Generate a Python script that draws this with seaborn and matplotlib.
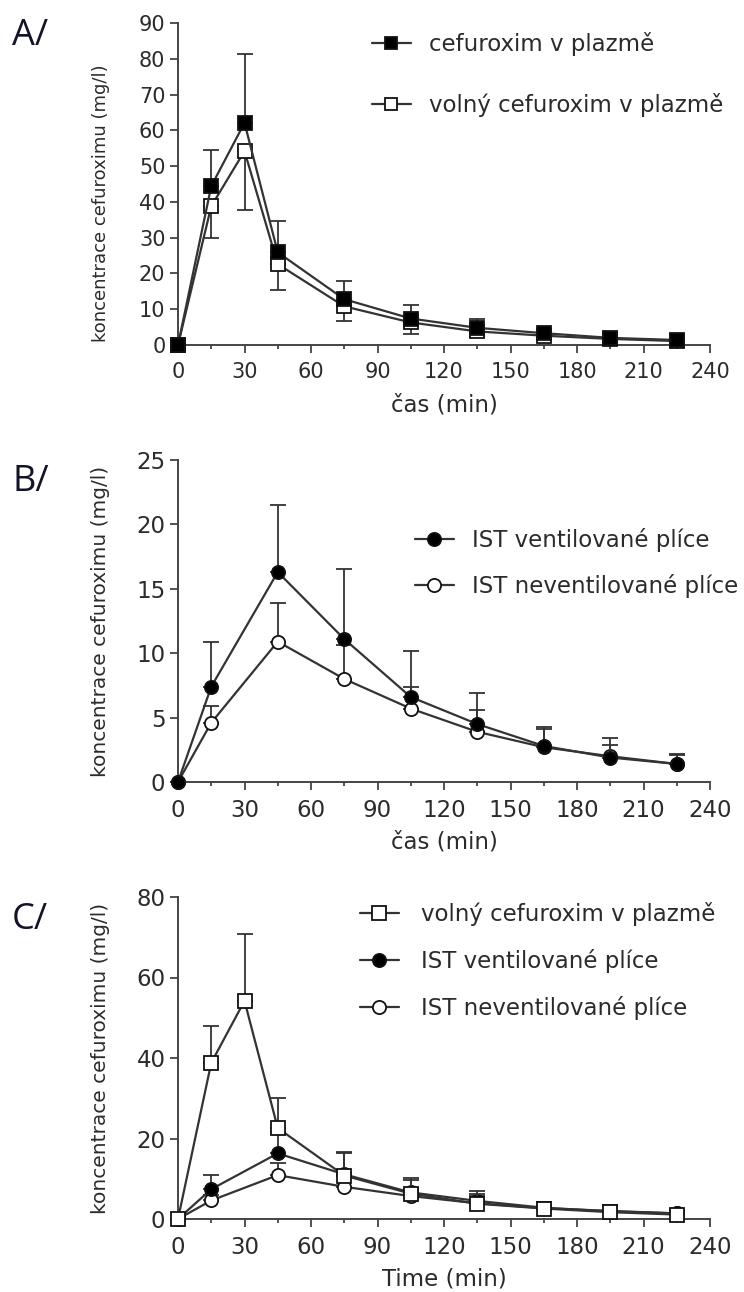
import matplotlib
matplotlib.use("Agg")
import matplotlib.pyplot as plt
import seaborn as sns
import numpy as np
from matplotlib.lines import Line2D
from matplotlib.ticker import MultipleLocator

# ---------------- data ----------------
time_a = [0, 15, 30, 45, 75, 105, 135, 165, 195, 225]
total_plasma = [0, 44.4, 62.1, 25.9, 12.8, 7.4, 4.8, 3.3, 2.0, 1.4]
total_plasma_up = [0, 10.1, 19.2, 8.7, 5.0, 3.9, 2.5, 1.2, 0.8, 0.6]
free_plasma = [0, 38.8, 54.2, 22.6, 10.8, 6.3, 3.8, 2.6, 1.7, 1.1]
free_plasma_down = [0, 8.9, 16.5, 7.3, 4.2, 3.2, 1.5, 0.8, 0.5, 0.3]

time_b = [0, 15, 45, 75, 105, 135, 165, 195, 225]
ist_vent = [0, 7.4, 16.3, 11.1, 6.6, 4.5, 2.8, 1.9, 1.4]
ist_vent_up = [0, 3.5, 5.2, 5.4, 3.6, 2.4, 1.5, 1.5, 0.8]
ist_nonvent = [0, 4.6, 10.9, 8.0, 5.7, 3.9, 2.7, 2.0, 1.4]
ist_nonvent_up = [0, 1.3, 3.0, 2.6, 1.7, 1.7, 1.4, 0.9, 0.7]

free_plasma_up_c = [0, 9.2, 16.5, 7.4, 5.8, 3.4, 2.3, 1.0, 0.6, 0.4]

lab_total = "cefuroxim v plazmě"
lab_free = "volný cefuroxim v plazmě"
lab_vent = "IST ventilované plíce"
lab_nonvent = "IST neventilované plíce"
ylab = "koncentrace cefuroximu (mg/l)"

# ---------------- style ----------------
sns.set_theme(style="ticks")
plt.rcParams["font.family"] = ["DejaVu Sans"]

W, H = 744, 1292
fig = plt.figure(figsize=(W / 100, H / 100), dpi=100)

LINE = "#333333"
TXT = "#2b2b2b"

def ax_rect(top_px, bottom_px, left_px=178, right_px=710):
    return [left_px / W, 1 - bottom_px / H, (right_px - left_px) / W, (bottom_px - top_px) / H]

def style_axes(ax, ymax, ystep, tick_fs, ylab_fs, ylab_y, xlabel):
    ax.set_xlim(0, 240)
    ax.set_ylim(0, ymax)
    ax.xaxis.set_major_locator(MultipleLocator(30))
    ax.xaxis.set_minor_locator(MultipleLocator(15))
    ax.yaxis.set_major_locator(MultipleLocator(ystep))
    for s in ["top", "right"]:
        ax.spines[s].set_visible(False)
    for s in ["left", "bottom"]:
        ax.spines[s].set_linewidth(1.4)
        ax.spines[s].set_color("#444444")
    ax.tick_params(axis="both", which="major", direction="out", length=6, width=1.3,
                   color="#444444", labelsize=tick_fs, labelcolor=TXT)
    ax.tick_params(axis="x", which="major", pad=6)
    ax.tick_params(axis="y", which="major", pad=3)
    ax.tick_params(axis="x", which="minor", direction="out", length=3, width=1.3, color="#444444")
    ax.set_ylabel(ylab, fontsize=ylab_fs, color=TXT)
    ax.yaxis.set_label_coords(-0.128, ylab_y)
    ax.set_xlabel(xlabel, fontsize=16.5, color=TXT)
    ax.xaxis.set_label_coords(0.5, -0.15)
    ax.grid(False)

def series(ax, x, y, marker, face, ms, z, err_lo=None, err_hi=None):
    lo = err_lo if err_lo is not None else [0] * len(y)
    hi = err_hi if err_hi is not None else [0] * len(y)
    ax.errorbar(x, y, yerr=[lo, hi], fmt="none", ecolor=LINE, elinewidth=1.3,
                capsize=5.5, capthick=1.3, zorder=z - 1, clip_on=False)
    sns.lineplot(x=x, y=y, ax=ax, color=LINE, linewidth=1.6, marker=marker,
                 markersize=ms, markerfacecolor=face, markeredgecolor="#111111",
                 markeredgewidth=1.3, zorder=z, clip_on=False, errorbar=None,
                 legend=False)

def handle(marker, face, ms):
    return Line2D([0], [0], color=LINE, linewidth=1.6, marker=marker, markersize=ms,
                  markerfacecolor=face, markeredgecolor="#111111", markeredgewidth=1.3)

def panel_letter(txt, x_px, y_px):
    fig.text(x_px / W, 1 - y_px / H, txt, fontsize=26, family=["Open Sans", "DejaVu Sans"],
             color="#141428", ha="left", va="top")

# ---------------- panel A ----------------
axA = fig.add_axes(ax_rect(23, 345))
series(axA, time_a, free_plasma, "s", "white", 10.5, 4, err_lo=free_plasma_down)
series(axA, time_a, total_plasma, "s", "black", 10.5, 6, err_hi=total_plasma_up)
style_axes(axA, 90, 10, 15, 13, 0.44, "čas (min)")
axA.legend([handle("s", "black", 9), handle("s", "white", 9)], [lab_total, lab_free],
           loc="upper left", bbox_to_anchor=(372 / W, 1 - 32 / H), bbox_transform=fig.transFigure,
           frameon=False, fontsize=16.5, handlelength=1.7, handletextpad=0.8,
           labelspacing=1.6, borderpad=0, borderaxespad=0, labelcolor=TXT)
panel_letter("A/", 12, 18)

# ---------------- panel B ----------------
axB = fig.add_axes(ax_rect(460, 782))
series(axB, time_b, ist_nonvent, "o", "white", 9.5, 4, err_hi=ist_nonvent_up)
series(axB, time_b, ist_vent, "o", "black", 9.5, 6, err_hi=ist_vent_up)
style_axes(axB, 25, 5, 16.5, 14.5, 0.5, "čas (min)")
axB.legend([handle("o", "black", 9.5), handle("o", "white", 9.5)], [lab_vent, lab_nonvent],
           loc="upper left", bbox_to_anchor=(415 / W, 1 - 528 / H), bbox_transform=fig.transFigure,
           frameon=False, fontsize=16.5, handlelength=1.7, handletextpad=0.8,
           labelspacing=0.95, borderpad=0, borderaxespad=0, labelcolor=TXT)
panel_letter("B/", 12, 464)

# ---------------- panel C ----------------
axC = fig.add_axes(ax_rect(897, 1219))
series(axC, time_b, ist_nonvent, "o", "white", 9.5, 3, err_hi=ist_nonvent_up)
series(axC, time_b, ist_vent, "o", "black", 9.5, 5, err_hi=ist_vent_up)
series(axC, time_a, free_plasma, "s", "white", 10.5, 7, err_hi=free_plasma_up_c)
style_axes(axC, 80, 20, 16.5, 14.5, 0.5, "Time (min)")
axC.legend([handle("s", "white", 9.5), handle("o", "black", 9.5), handle("o", "white", 9.5)],
           [lab_free, lab_vent, lab_nonvent],
           loc="upper left", bbox_to_anchor=(360 / W, 1 - 902 / H), bbox_transform=fig.transFigure,
           frameon=False, fontsize=16.5, handlelength=1.7, handletextpad=0.95,
           labelspacing=1.0, borderpad=0, borderaxespad=0, labelcolor=TXT)
panel_letter("C/", 12, 902)

fig.savefig("out.png", dpi=100)
